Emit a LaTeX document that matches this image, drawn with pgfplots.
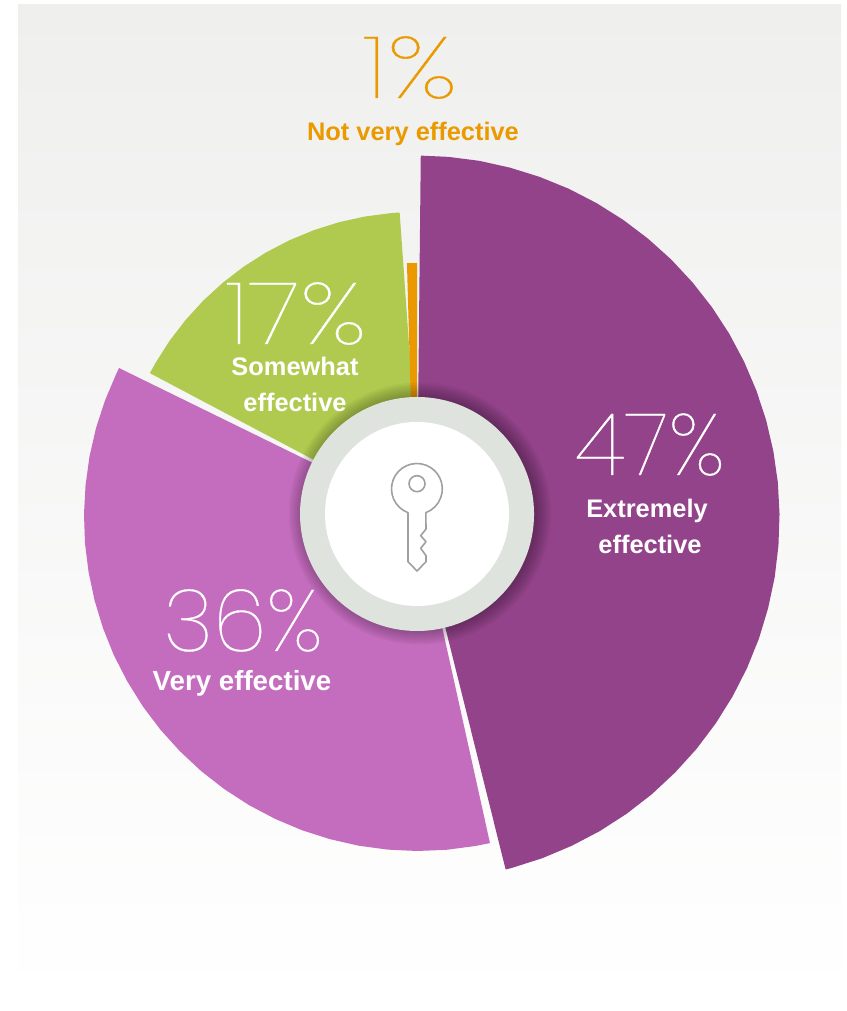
\documentclass[border=0pt]{standalone}
\usepackage{fontspec}
\usepackage{pgfplots}
\pgfplotsset{compat=1.18}
\setmainfont{Liberation Sans}
\newfontfamily\thinfont{Poppins Thin}[FakeBold=0.4]
\newfontfamily\boldfont{Liberation Sans}[BoldFont={* Bold}]

\definecolor{cdark}{HTML}{93438A}
\definecolor{clight}{HTML}{C46CBD}
\definecolor{cgreen}{HTML}{AFCA4E}
\definecolor{corange}{HTML}{EA9A00}
\definecolor{cring}{HTML}{DEE3DE}
\definecolor{ckey}{HTML}{A0A0A0}
\definecolor{cbgtop}{HTML}{EFF0EE}

\newcommand{\pct}[1]{{\thinfont\fontsize{87}{87}\selectfont #1}}
\newcommand{\lab}[1]{{\boldfont\bfseries\fontsize{25.5}{26}\selectfont #1}}

\begin{document}
\begin{tikzpicture}
\begin{axis}[
  scale only axis,
  width=846bp,
  height=1011bp,
  xmin=-417, xmax=429,
  ymin=-497, ymax=514,
  hide axis,
]
% hide axis drops the box from the bounding box, keep the full page
\fill[white] (axis cs:-417,514) rectangle (axis cs:429,-497);
% panel behind the pie
\fill[top color=cbgtop, middle color=cbgtop!55!white, bottom color=white]
  (axis cs:-399,509) rectangle (axis cs:424,-490);

% angle, radius
\addplot[fill=cdark, draw=none, data cs=polar] coordinates {
 (0,0) (89.4,358.4) (85,358.5) (80,358.6) (75,358.6) (70,358.7) (65,358.9) (60,359.0)
 (55,359.2) (50,359.4) (45,359.7) (40,359.9) (35,360.2) (30,360.5) (25,360.8) (20,361.1)
 (15,361.5) (10,361.8) (5,362.2) (0,362.5) (-5,362.8) (-10,363.2) (-15,363.5) (-20,363.9)
 (-25,364.2) (-30,364.5) (-35,364.8) (-40,365.1) (-45,365.3) (-50,365.6) (-55,365.8)
 (-60,366.0) (-65,366.1) (-70,366.3) (-75,366.4) (-76,366.4)
};
\addplot[fill=clight, draw=none, data cs=polar] coordinates {
 (0,0) (-77.5,337.1) (-80,337.1) (-85,337.1) (-90,337.0) (-95,336.9) (-100,336.8)
 (-105,336.6) (-110,336.5) (-115,336.3) (-120,336.1) (-125,335.9) (-130,335.7) (-135,335.4)
 (-140,335.2) (-145,334.9) (-150,334.6) (-155,334.4) (-160,334.1) (-165,333.8) (-170,333.5)
 (-175,333.3) (-180,333.0) (-185,332.7) (-190,332.5) (-195,332.3) (-200,332.0) (-205,331.8)
 (-206.1,331.8)
};
\addplot[fill=cgreen, draw=none, data cs=polar] coordinates {
 (180,1) (152.2,302) (150,302) (145,302) (140,302) (135,302) (130,302) (125,302) (120,302)
 (115,302) (110,302) (105,302) (100,302) (95,302) (93.3,302) (0,4)
};
\addplot[fill=corange, draw=none, data cs=polar] coordinates {
 (180,3) (92.3,251.2) (91,251) (90,251) (0,0.3)
};

% shadow under the hub
\pgfplotsinvokeforeach{117,119,...,131}{
  \fill[black, opacity=0.04] (axis cs:3,0.5) circle[radius=#1bp];
}
\fill[cring] (axis cs:0,0) circle[radius=117bp];
\fill[white] (axis cs:0,0) circle[radius=92bp];

% key
\draw[ckey, line width=1.6bp, line join=round]
  (axis cs:-9,1.3) arc[start angle=249.5, end angle=-69.5, radius=25.4bp]
  -- (axis cs:9,-15) -- (axis cs:3.7,-21.7) -- (axis cs:9,-27.7) -- (axis cs:3.7,-34.3)
  -- (axis cs:9,-41.7) -- (axis cs:9,-47.7) -- (axis cs:0,-57) -- (axis cs:-9,-47.7) -- cycle;
\draw[ckey, line width=1.6bp] (axis cs:0,30.3) circle[radius=8bp];

% labels
\node[anchor=base, text=corange] at (axis cs:-7,416) {\scalebox{1.25}[1]{\pct{1\%}}};
\node[anchor=base, text=corange] at (axis cs:-4,373) {\lab{Not very effective}};
\node[anchor=base, white] at (axis cs:233,39) {\pct{47\%}};
\node[anchor=base, white] at (axis cs:230,-4) {\lab{Extremely}};
\node[anchor=base, white] at (axis cs:233,-40) {\lab{effective}};
\node[anchor=base, white] at (axis cs:-174,-137) {\pct{36\%}};
\node[anchor=base, white] at (axis cs:-175,-177) {{\boldfont\bfseries\fontsize{27.8}{28}\selectfont Very effective}};
\node[anchor=base, white] at (axis cs:-121,170) {\scalebox{1.18}[1]{\pct{17\%}}};
\node[anchor=base, white] at (axis cs:-122,138) {\lab{Somewhat}};
\node[anchor=base, white] at (axis cs:-122,102) {\lab{effective}};
\end{axis}
\end{tikzpicture}
\end{document}
